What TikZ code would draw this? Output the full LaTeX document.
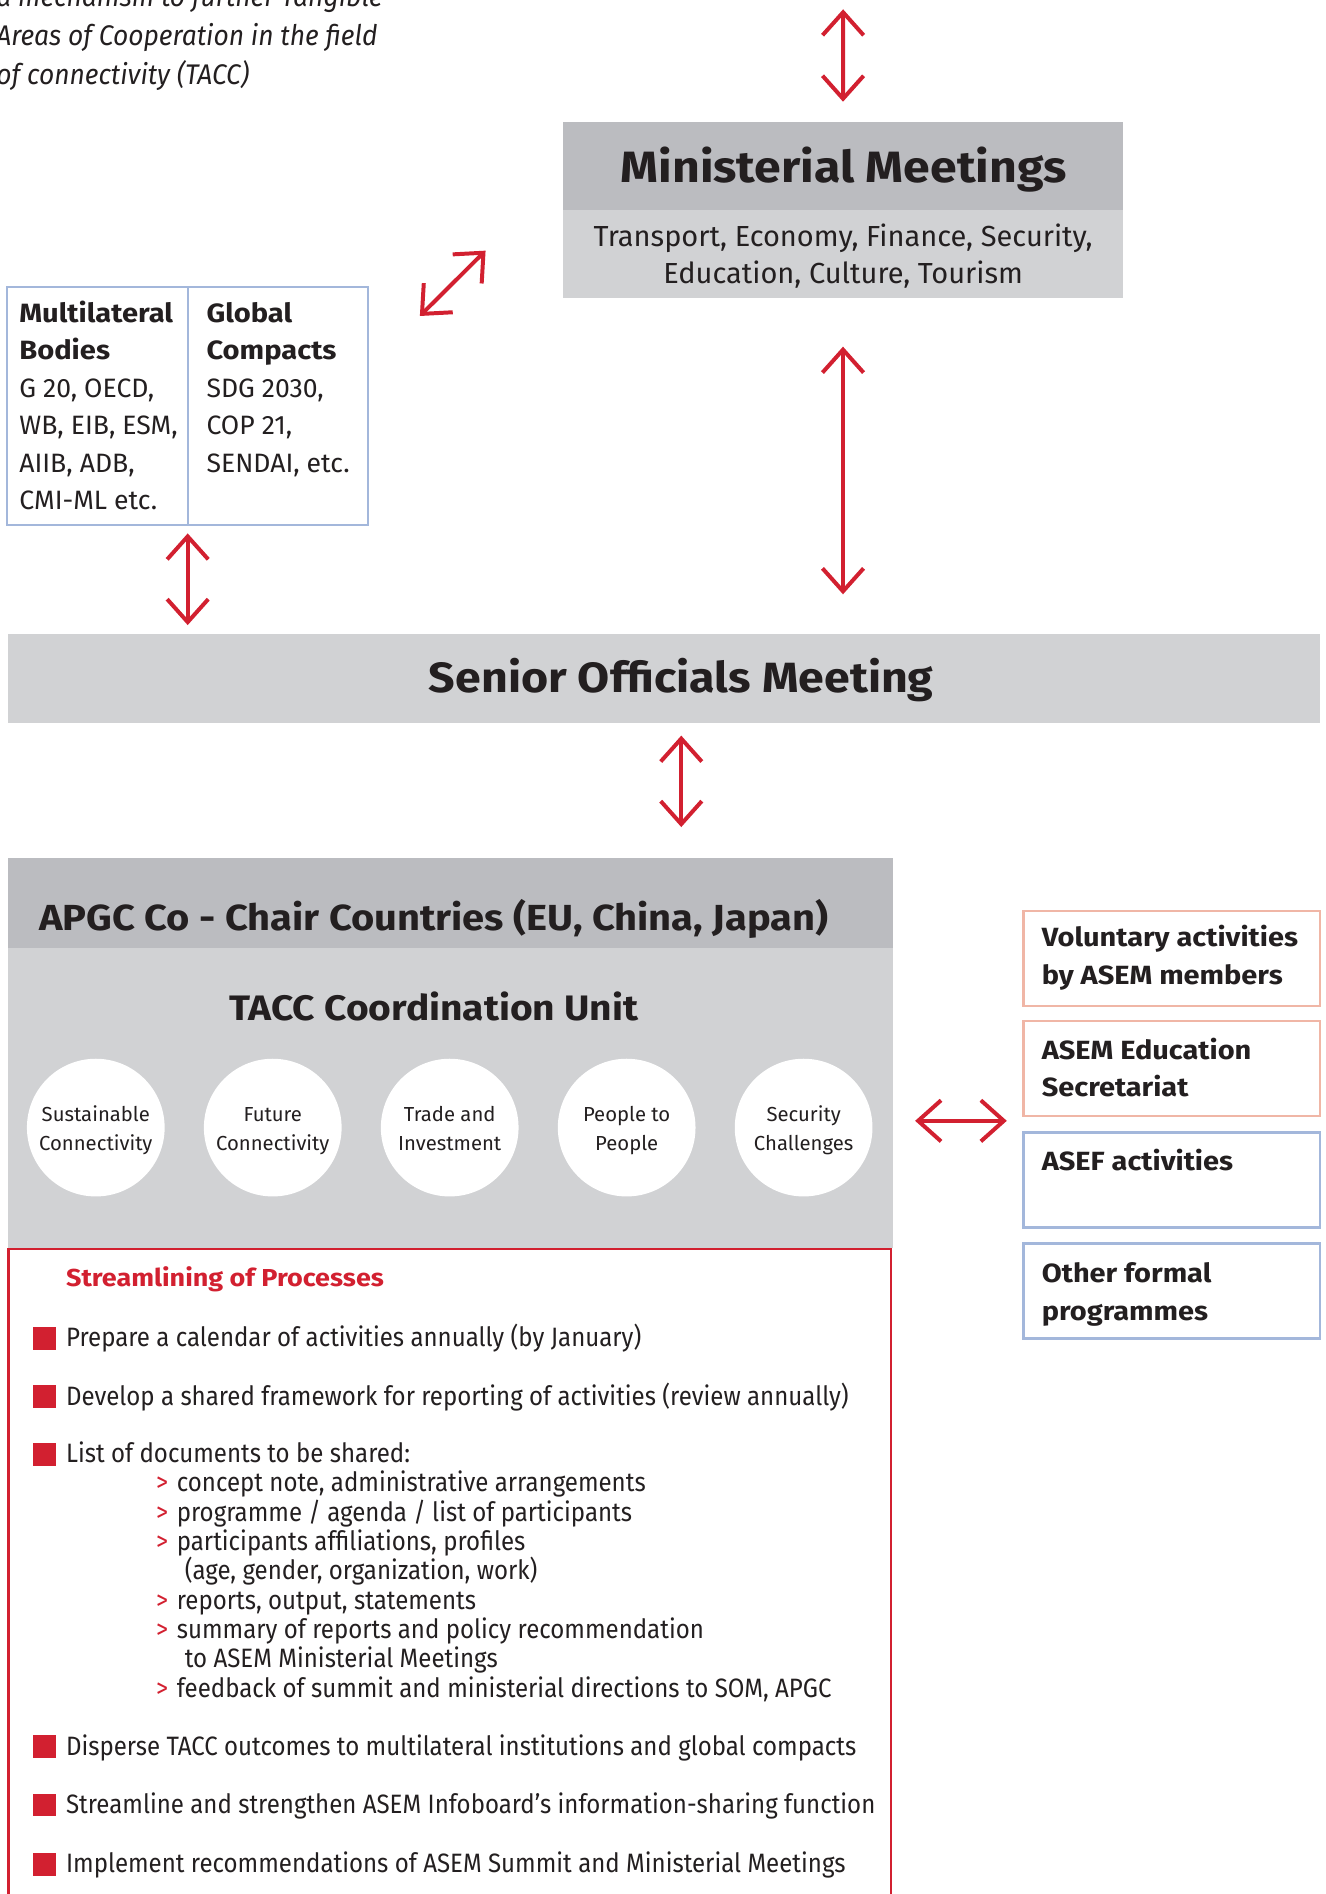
\documentclass[tikz,border=0pt]{standalone}
\usepackage{fontspec}
\setmainfont{Fira Sans}
\newfontfamily\listsans{Fira Sans}[FakeStretch=0.905]
\newfontfamily\introsans{Fira Sans}[FakeStretch=0.93]
\newfontfamily\widesans{Fira Sans}[FakeStretch=1.1]
\usepackage{xcolor}
\usetikzlibrary{arrows.meta}
\usetikzlibrary{positioning}

\definecolor{ecred}{RGB}{210,32,48}
\definecolor{headgray}{RGB}{187,188,192}
\definecolor{bodygray}{RGB}{209,210,212}
\definecolor{inktext}{RGB}{35,31,32}
\definecolor{salmon}{RGB}{240,182,166}
\definecolor{paleblue}{RGB}{163,183,219}

\tikzset{
  every node/.style={inner sep=0pt, outer sep=0pt, text=inktext},
  headbar/.style={fill=headgray, anchor=north west},
  bodybar/.style={fill=bodygray, anchor=north west},
  bluebox/.style={draw=paleblue, line width=1.8pt, anchor=north west},
  pinkbox/.style={draw=salmon, line width=1.8pt, anchor=north west},
  redframe/.style={draw=ecred, line width=2pt, anchor=north west},
  topic/.style={circle, fill=white, minimum size=114pt},
  redsquare/.style={fill=ecred, minimum size=19pt},
  twoway/.style={draw=ecred, line width=3.3pt,
    {Straight Barb[length=19pt,width=34pt]}-{Straight Barb[length=19pt,width=34pt]}},
  introtxt/.style={anchor=base west, font=\introsans\itshape\fontsize{23.5}{28}\selectfont},
  bigtitle/.style={anchor=base, font=\widesans\bfseries\fontsize{36.3}{44}\selectfont},
  midtitle/.style={font=\widesans\bfseries\fontsize{30}{36}\selectfont},
  plaintxt/.style={anchor=base, font=\fontsize{24}{31}\selectfont},
  boxhead/.style={anchor=base west, font=\widesans\bfseries\fontsize{21.9}{31}\selectfont},
  boxtxt/.style={anchor=base west, font=\fontsize{22}{31}\selectfont},
  circtxt/.style={anchor=base, font=\fontsize{16.8}{23}\selectfont},
  listtxt/.style={anchor=base west, font=\listsans\fontsize{22}{24}\selectfont},
  listmark/.style={anchor=base west, text=ecred, font=\listsans\fontsize{22}{24}\selectfont},
  sidehead/.style={anchor=base west, font=\widesans\bfseries\fontsize{21.8}{31}\selectfont},
}

\begin{document}
\begin{tikzpicture}[x=1pt,y=-1pt]
  \useasboundingbox (0,0) rectangle (1097,1568);

  % intro text, cut off by the page edge
  \node[introtxt] (intro1) at (-3,5.5) {a mechanism to further Tangible};
  \node[introtxt] (intro2) at (-3,37.9) {Areas of Cooperation in the field};
  \node[introtxt] (intro3) at (-3,70.3) {of connectivity (TACC)};

  % ministerial meetings
  \node[headbar, minimum width=464.2pt, minimum height=72.9pt] (mmh) at (465.8,101) {};
  \node[bodybar, minimum width=464.2pt, minimum height=73pt] (mmb) at (465.8,173.9) {};
  \node[bigtitle] (mmtitle) at (698.4,151.3) {Ministerial Meetings};
  \node[plaintxt] (mmline1) at (698,203.7) {Transport, Economy, Finance, Security,};
  \node[plaintxt] (mmline2) at (698,234.6) {Education, Culture, Tourism};

  % multilateral bodies / global compacts
  \node[bluebox, minimum width=149.3pt, minimum height=196.8pt] (mbl) at (6.1,237.9) {};
  \node[bluebox, minimum width=149pt, minimum height=196.8pt] (mbr) at (155.4,237.9) {};
  \node[boxhead] (mbl1) at (16,266.9) {Multilateral};
  \node[boxhead] (mbl2) at (16,298) {Bodies};
  \node[boxtxt] (mbl3) at (16,329.3) {G 20, OECD,};
  \node[boxtxt] (mbl4) at (16,359.6) {WB, EIB, ESM,};
  \node[boxtxt] (mbl5) at (16,391) {AIIB, ADB,};
  \node[boxtxt] (mbl6) at (16,421.7) {CMI-ML etc.};
  \node[boxhead] (mbr1) at (171,266.9) {Global};
  \node[boxhead] (mbr2) at (171,298) {Compacts};
  \node[boxtxt] (mbr3) at (171,329.3) {SDG 2030,};
  \node[boxtxt] (mbr4) at (171,359.6) {COP 21,};
  \node[boxtxt] (mbr5) at (171,391) {SENDAI, etc.};

  % senior officials meeting
  \node[bodybar, minimum width=1086pt, minimum height=73.4pt] (som) at (7,524.9) {};
  \node[bigtitle, font=\widesans\bfseries\fontsize{35}{42}\selectfont] (somtitle) at (564,573.5) {Senior Officials Meeting};

  % APGC and TACC coordination unit
  \node[headbar, minimum width=732pt, minimum height=74.6pt] (apgch) at (7,710.4) {};
  \node[bodybar, minimum width=732pt, minimum height=248pt] (tacc) at (7,785) {};
  \node[midtitle, anchor=base west] (apgctitle) at (32.3,770) {APGC Co - Chair Countries (EU, China, Japan)};
  \node[midtitle, anchor=base, font=\widesans\bfseries\fontsize{29.3}{34}\selectfont] (tacctitle) at (359.3,844.5) {TACC Coordination Unit};

  \node[topic] (c1) at (79.3,933.5) {};
  \node[topic] (c2) at (225.8,933.5) {};
  \node[topic] (c3) at (372.3,933.5) {};
  \node[topic] (c4) at (518.8,933.5) {};
  \node[topic] (c5) at (665.3,933.5) {};
  \node[circtxt] (c1a) at (79.3,928.7) {Sustainable};
  \node[circtxt] (c1b) at (79.3,952.1) {Connectivity};
  \node[circtxt] (c2a) at (225.8,928.7) {Future};
  \node[circtxt] (c2b) at (225.8,952.1) {Connectivity};
  \node[circtxt] (c3a) at (372.3,928.7) {Trade and};
  \node[circtxt] (c3b) at (372.3,952.1) {Investment};
  \node[circtxt] (c4a) at (518.8,928.7) {People to};
  \node[circtxt] (c4b) at (518.8,952.1) {People};
  \node[circtxt] (c5a) at (665.3,928.7) {Security};
  \node[circtxt] (c5b) at (665.3,952.1) {Challenges};

  % streamlining of processes
  \node[redframe, minimum width=730.6pt, minimum height=560pt] (spbox) at (7.1,1034) {};
  \node[anchor=base west, text=ecred, font=\widesans\bfseries\fontsize{20.3}{24}\selectfont] (sptitle) at (54.7,1065.3) {Streamlining of Processes};

  \node[redsquare] (sq1) at (36.6,1108) {};
  \node[listtxt] (item1) at (54.7,1115) {Prepare a calendar of activities annually (by January)};
  \node[redsquare] (sq2) at (36.6,1156.3) {};
  \node[listtxt] (item2) at (54.7,1163.3) {Develop a shared framework for reporting of activities (review annually)};
  \node[redsquare] (sq3) at (36.6,1204) {};
  \node[listtxt] (item3) at (54.7,1211) {List of documents to be shared:};

  \node[listmark] (m1) at (129.3,1235) {>};
  \node[listtxt] (sub1) at (146.4,1235) {concept note, administrative arrangements};
  \node[listmark] (m2) at (129.3,1259.3) {>};
  \node[listtxt] (sub2) at (146.4,1259.3) {programme / agenda / list of participants};
  \node[listmark] (m3) at (129.3,1283.6) {>};
  \node[listtxt] (sub3) at (146.4,1283.6) {participants affiliations, profiles};
  \node[listtxt] (sub3b) at (153,1307.9) {(age, gender, organization, work)};
  \node[listmark] (m4) at (129.3,1332.2) {>};
  \node[listtxt] (sub4) at (146.4,1332.2) {reports, output, statements};
  \node[listmark] (m5) at (129.3,1356.5) {>};
  \node[listtxt] (sub5) at (146.4,1356.5) {summary of reports and policy recommendation};
  \node[listtxt] (sub5b) at (153,1380.8) {to ASEM Ministerial Meetings};
  \node[listmark] (m6) at (129.3,1405.1) {>};
  \node[listtxt] (sub6) at (146.4,1405.1) {feedback of summit and ministerial directions to SOM, APGC};

  \node[redsquare] (sq4) at (36.6,1446) {};
  \node[listtxt] (item4) at (54.7,1453) {Disperse TACC outcomes to multilateral institutions and global compacts};
  \node[redsquare] (sq5) at (36.6,1494.3) {};
  \node[listtxt] (item5) at (54.7,1501.3) {Streamline and strengthen ASEM Infoboard’s information-sharing function};
  \node[redsquare] (sq6) at (36.6,1543.2) {};
  \node[listtxt] (item6) at (54.7,1550.2) {Implement recommendations of ASEM Summit and Ministerial Meetings};

  % side programmes
  \node[pinkbox, minimum width=245.6pt, minimum height=78.7pt] (vol) at (847.3,754) {};
  \node[pinkbox, minimum width=245.6pt, minimum height=78.7pt] (edu) at (847.3,845.3) {};
  \node[bluebox, minimum width=245.6pt, minimum height=78.7pt] (asef) at (847.3,937.5) {};
  \node[bluebox, minimum width=245.6pt, minimum height=78.7pt] (other) at (847.3,1029.4) {};
  \node[sidehead] (vol1) at (862.5,783.8) {Voluntary activities};
  \node[sidehead] (vol2) at (862.5,815) {by ASEM members};
  \node[sidehead] (edu1) at (862.5,876.8) {ASEM Education};
  \node[sidehead] (edu2) at (862.5,908) {Secretariat};
  \node[sidehead] (asef1) at (862.5,969.3) {ASEF activities};
  \node[sidehead] (other1) at (862.5,1062) {Other formal};
  \node[sidehead] (other2) at (862.5,1093) {programmes};

  % arrows
  \coordinate (summit) at (698,7.7);
  \coordinate (diagA) at (347.6,261.6);
  \coordinate (diagB) at (402,207.5);
  \coordinate (tacc-out) at (739,927.9);
  \draw[twoway, shorten >=16.8pt] (summit) -- (mmh.north);
  \draw[twoway] (diagA) -- (diagB);
  \draw[twoway, shorten <=40.1pt, shorten >=32.9pt] (mmb.south) -- (mmb.south |- som.north);
  \draw[twoway, shorten <=6.9pt, shorten >=7.4pt] (mbl.south east) -- (mbl.south east |- som.north);
  \draw[twoway, shorten <=10.7pt, shorten >=25.7pt] ([xshift=14pt]som.south) -- ([xshift=14pt]som.south |- apgch.north);
  \draw[twoway, shorten <=18.6pt, shorten >=13.8pt] (tacc-out) -- (tacc-out -| asef.west);
\end{tikzpicture}
\end{document}
